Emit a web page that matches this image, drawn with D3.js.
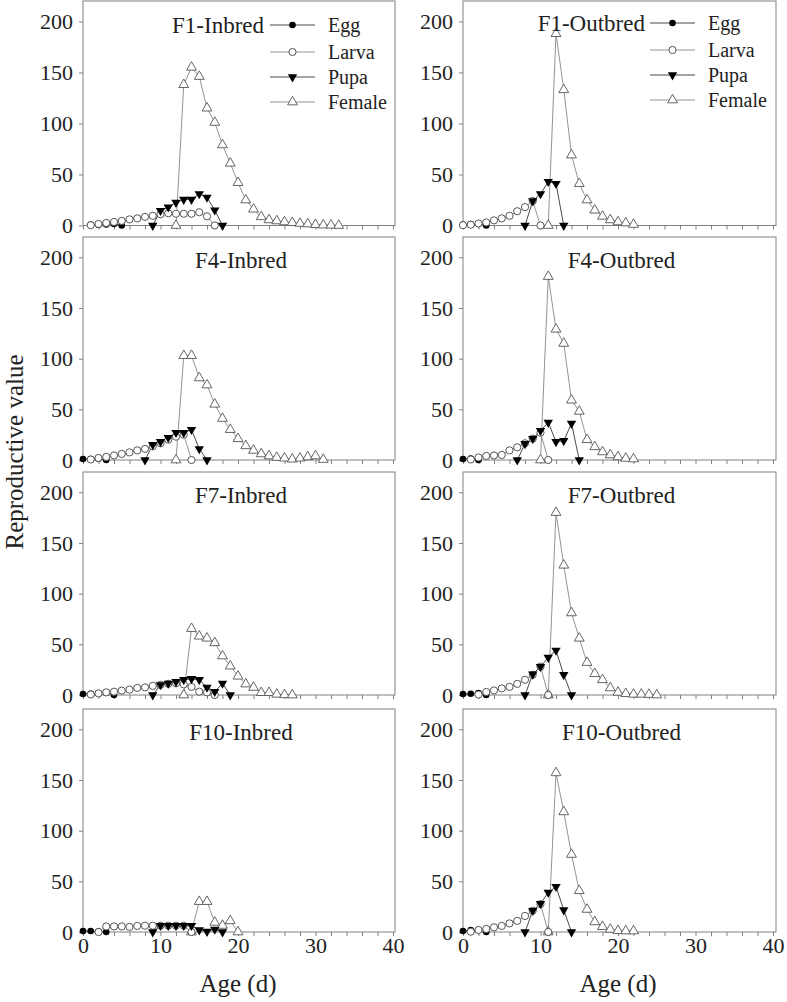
<!DOCTYPE html>
<html><head><meta charset="utf-8">
<script src="https://cdn.jsdelivr.net/npm/d3@7"></script>
<style>body{margin:0;background:#fff}svg{display:block}text{font-family:"Liberation Serif","Times New Roman",serif;fill:#222}</style>
</head><body><svg id="c" width="787" height="1002"></svg>
<script>
// ---- data: [age (d), reproductive value] ----
const f1InbredEgg=[[1,1.0],[2,0.8],[3,1.0],[4,1.5],[5,0]];
const f1InbredLarva=[[1,0.3],[2,1.5],[3,2.5],[4,3.5],[5,4.5],[6,6],[7,7],[8,8.5],[9,9.5],[10,11],[11,12],[12,11.5],[13,11.5],[14,11.5],[15,13],[16,9],[17,0]];
const f1InbredPupa=[[9,0],[10,14.5],[11,18],[12,22.5],[13,25.5],[14,25.5],[15,31],[16,27.5],[17,15],[18,0]];
const f1InbredFemale=[[12,0],[13,138],[14,155],[15,146],[16,115],[17,101],[18,79],[19,61],[20,42],[21,25],[22,16],[23,8.5],[24,5.5],[25,4.5],[26,3.5],[27,2.8],[28,2],[29,1.5],[30,0.8],[31,0.4],[32,0.3],[33,0]];

const f1OutbredEgg=[[0,1],[1,1.5],[2,1.5],[3,0]];
const f1OutbredLarva=[[0,0.3],[1,0.8],[2,2],[3,3],[4,5],[5,7],[6,9.5],[7,14],[8,18],[9,24],[10,0]];
const f1OutbredPupa=[[8,0],[9,24],[10,31],[11,43],[12,41],[13,0]];
const f1OutbredFemale=[[11,0],[12,188],[13,133],[14,69],[15,41],[16,25],[17,15],[18,9],[19,5.5],[20,3.5],[21,2.5],[22,1]];

const f4InbredEgg=[[0,1],[1,1],[2,1.2],[3,0]];
const f4InbredLarva=[[1,0.5],[2,2],[3,3],[4,4.5],[5,6],[6,7.5],[7,9.5],[8,11],[9,13.5],[10,16.5],[11,20],[12,23],[13,25],[14,0]];
const f4InbredPupa=[[8,0],[9,15],[10,18],[11,22],[12,27],[13,27],[14,30],[15,11],[16,0]];
const f4InbredFemale=[[12,0],[13,103],[14,103],[15,81],[16,74],[17,55],[18,41],[19,30],[20,21],[21,14],[22,9.5],[23,6],[24,4],[25,2.5],[26,1.8],[27,0.8],[28,1.8],[29,3],[30,4],[31,0.5]];

const f4OutbredEgg=[[0,1],[1,1.5],[2,0]];
const f4OutbredLarva=[[1,0.5],[2,2.5],[3,4],[4,4.5],[5,5],[6,9.5],[7,12.5],[8,16.5],[9,21],[10,27],[11,0]];
const f4OutbredPupa=[[7,0],[8,16],[9,21],[10,29],[11,37],[12,18],[13,19],[14,36],[15,0]];
const f4OutbredFemale=[[10,0],[11,181],[12,129],[13,115],[14,59],[15,48],[16,20],[17,13],[18,8],[19,5],[20,3],[21,1.6],[22,1]];

const f7InbredEgg=[[0,1],[1,1.3],[2,1.8],[3,2.5],[4,0]];
const f7InbredLarva=[[1,0.5],[2,1.6],[3,2.6],[4,3.3],[5,4.3],[6,5.3],[7,7],[8,7.5],[9,9],[10,10],[11,11],[12,11.5],[13,10.5],[14,8],[15,3.3],[16,2.6],[17,0]];
const f7InbredPupa=[[9,0],[10,10],[11,11.5],[12,13],[13,15],[14,16],[15,15],[16,7.5],[17,3.3],[18,11.5],[19,0]];
const f7InbredFemale=[[13,0],[14,65.5],[15,58],[16,56],[17,51.5],[18,38.5],[19,28.5],[20,18.5],[21,10.8],[22,7.5],[23,2.3],[24,2.3],[25,0.7],[26,0.2],[27,0]];

const f7OutbredEgg=[[0,1],[1,1.3],[2,2],[3,0]];
const f7OutbredLarva=[[2,0.5],[3,3],[4,4.5],[5,6.5],[6,8],[7,11],[8,15],[9,20],[10,28],[11,0]];
const f7OutbredPupa=[[8,0],[9,20.5],[10,28],[11,37],[12,44],[13,20],[14,0]];
const f7OutbredFemale=[[11,0],[12,180],[13,128],[14,81],[15,56],[16,32],[17,21],[18,15],[19,7],[20,2.6],[21,1.3],[22,0.7],[23,0.7],[24,0.5],[25,0]];

const f10InbredEgg=[[0,1],[1,1],[2,0.5],[3,0]];
const f10InbredLarva=[[2,0],[3,5.5],[4,5.5],[5,5.5],[6,5],[7,6],[8,6.2],[9,6.2],[10,6.2],[11,6.2],[12,6.2],[13,6.2],[14,0]];
const f10InbredPupa=[[9,0],[10,6.2],[11,6.2],[12,6.2],[13,6.2],[14,6.2],[15,2],[16,0.5],[17,2.6],[18,0]];
const f10InbredFemale=[[14,0],[15,30],[16,30],[17,9.5],[18,6.5],[19,11],[20,0]];

const f10OutbredEgg=[[0,1],[1,2],[2,2],[3,0]];
const f10OutbredLarva=[[1,0.3],[2,2],[3,3],[4,4.6],[5,6],[6,8.5],[7,11],[8,15.8],[9,21],[10,27.5],[11,0]];
const f10OutbredPupa=[[8,0],[9,21],[10,28],[11,39],[12,44.7],[13,21.7],[14,0]];
const f10OutbredFemale=[[11,0],[12,157],[13,118.5],[14,76.5],[15,40.7],[16,22.3],[17,10],[18,5.3],[19,2.6],[20,1.3],[21,1],[22,1]];

const panelTitles=["F1-Inbred","F1-Outbred","F4-Inbred","F4-Outbred","F7-Inbred","F7-Outbred","F10-Inbred","F10-Outbred"];
const stageNames=["Egg","Larva","Pupa","Female"];
const yTicks=[0,50,100,150,200];
const xTickLabels=[0,10,20,30,40];
const xMinorTicks=d3.range(0,41,2);
const yLabel="Reproductive value";
const xLabel="Age (d)";

const panelSeries=[
 [f1InbredEgg,f1InbredLarva,f1InbredPupa,f1InbredFemale],
 [f1OutbredEgg,f1OutbredLarva,f1OutbredPupa,f1OutbredFemale],
 [f4InbredEgg,f4InbredLarva,f4InbredPupa,f4InbredFemale],
 [f4OutbredEgg,f4OutbredLarva,f4OutbredPupa,f4OutbredFemale],
 [f7InbredEgg,f7InbredLarva,f7InbredPupa,f7InbredFemale],
 [f7OutbredEgg,f7OutbredLarva,f7OutbredPupa,f7OutbredFemale],
 [f10InbredEgg,f10InbredLarva,f10InbredPupa,f10InbredFemale],
 [f10OutbredEgg,f10OutbredLarva,f10OutbredPupa,f10OutbredFemale]
];

// ---- layout ----
const svg=d3.select("#c");
const cols=[{x0:83,x1:393,r:395},{x0:463,x1:773,r:776}];
const rows=[{top:1,bottom:225.5},{top:237,bottom:460},{top:472,bottom:695},{top:709,bottom:932}];
const lineCol=["#333","#888","#333","#888"];
const stroke="#808080";

function marker(g,stage,x,y){
  if(stage===0) g.append("circle").attr("cx",x).attr("cy",y).attr("r",3.3).attr("fill","#000");
  else if(stage===1) g.append("circle").attr("cx",x).attr("cy",y).attr("r",3.6).attr("fill","#fff").attr("stroke","#444").attr("stroke-width",0.9);
  else if(stage===2) g.append("path").attr("d",d3.symbol(d3.symbolTriangle,38)()).attr("transform",`translate(${x},${y}) rotate(180)`).attr("fill","#000");
  else g.append("path").attr("d",d3.symbol(d3.symbolTriangle,42)()).attr("transform",`translate(${x},${y})`).attr("fill","#fff").attr("stroke","#555").attr("stroke-width",0.9);
}

panelSeries.forEach((series,i)=>{
  const c=cols[i%2], r=rows[Math.floor(i/2)];
  const x=d3.scaleLinear().domain([0,40]).range([c.x0,c.x1]);
  const y=d3.scaleLinear().domain([0,220]).range([r.bottom,r.top]);
  const g=svg.append("g");
  g.append("rect").attr("x",c.x0).attr("y",r.top).attr("width",c.r-c.x0).attr("height",r.bottom-r.top)
   .attr("fill","none").attr("stroke",stroke).attr("stroke-width",1);
  // y axis
  const ya=g.append("g").attr("transform",`translate(${c.x0},0)`)
    .call(d3.axisLeft(y).tickValues(yTicks).tickSize(4).tickPadding(6).tickFormat(d3.format("d")));
  ya.select(".domain").remove();
  ya.selectAll(".tick line").attr("stroke",stroke);
  ya.selectAll("text").attr("font-size",22).attr("font-family","Liberation Serif").attr("fill","#222");
  // x axis
  const xa=g.append("g").attr("transform",`translate(0,${r.bottom})`)
    .call(d3.axisBottom(x).tickValues(xMinorTicks).tickSize(4).tickFormat(""));
  xa.select(".domain").remove();
  xa.selectAll(".tick line").attr("stroke",stroke);
  if(Math.floor(i/2)===3){
    const xl=g.append("g").attr("transform",`translate(0,${r.bottom})`)
      .call(d3.axisBottom(x).tickValues(xTickLabels).tickSize(0).tickPadding(5).tickFormat(d3.format("d")));
    xl.select(".domain").remove();
    xl.selectAll("text").attr("font-size",22).attr("font-family","Liberation Serif").attr("fill","#222");
    g.append("text").attr("x",(c.x0+c.x1)/2).attr("y",992).attr("text-anchor","middle").attr("font-size",25).text(xLabel);
  }
  // series
  const line=d3.line().x(d=>x(d[0])).y(d=>y(d[1]));
  const order=[3,0,1,2];
  order.forEach(s=>{
    g.append("path").attr("d",line(series[s])).attr("fill","none").attr("stroke",lineCol[s]).attr("stroke-width",0.9);
  });
  order.forEach(s=>{
    series[s].forEach(d=>marker(g,s,x(d[0]),y(d[1])));
  });
  // title
  if(i<2){
    const tx=i===0?264:645, ly=i===0?[25,52,77,102]:[23,50,75,100];
    const lx0=i===0?270:650;
    g.append("text").attr("x",tx).attr("y",ly[0]+8).attr("text-anchor","end").attr("font-size",23).text(panelTitles[i]);
    stageNames.forEach((nm,s)=>{
      g.append("line").attr("x1",lx0).attr("x2",lx0+45).attr("y1",ly[s]).attr("y2",ly[s]).attr("stroke",lineCol[s]).attr("stroke-width",0.9);
      marker(g,s,lx0+22.5,ly[s]);
      g.append("text").attr("x",lx0+58).attr("y",ly[s]+7).attr("font-size",20).text(nm);
    });
  } else {
    g.append("text").attr("x",(c.x0+c.r)/2+2).attr("y",r.top+31).attr("text-anchor","middle").attr("font-size",23).text(panelTitles[i]);
  }
});
svg.append("text").attr("transform","translate(23,452) rotate(-90)").attr("text-anchor","middle").attr("font-size",25).text(yLabel);
</script></body></html>
